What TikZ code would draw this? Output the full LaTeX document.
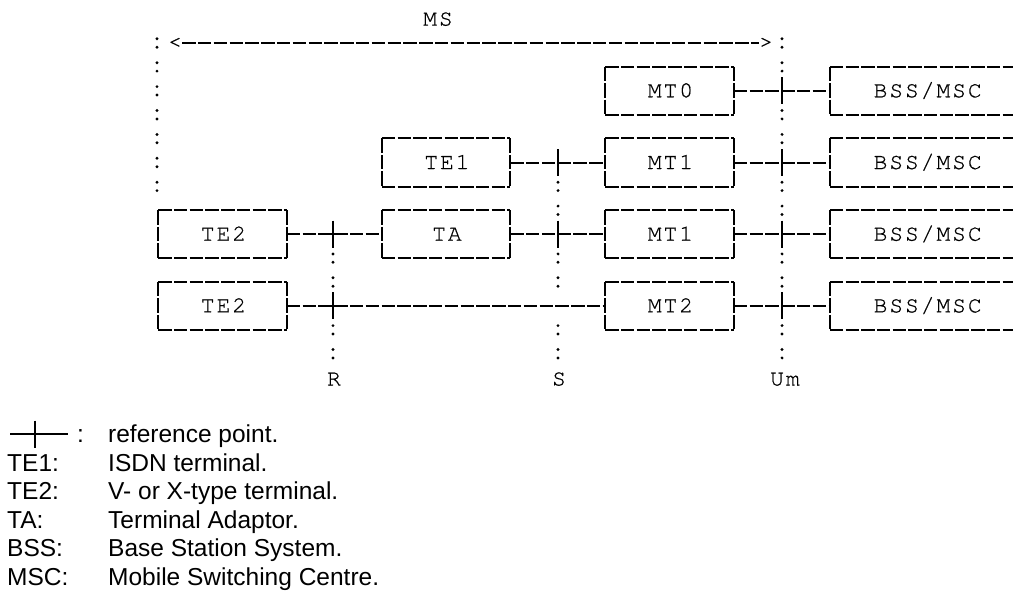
\documentclass[tikz,border=0pt]{standalone}
\usepackage{fontspec}
\newfontfamily\dmono[LetterSpace=8.3,FakeBold=0.5]{texgyrecursor-regular.otf}
\newfontfamily\dmonoplain[FakeBold=0.5]{texgyrecursor-regular.otf}
\newfontfamily\legfont{Liberation Sans}
\newcommand\drawbox[1]{%
  \draw[hedge] (#1.north west) -- (#1.north east);
  \draw[hedge] (#1.south west) -- (#1.south east);
  \draw[vedge] (#1.north west) -- (#1.south west);
  \draw[vedge] (#1.north east) -- (#1.south east);}
\newcommand\drawopenbox[1]{%
  \draw[hedge] (#1.north west) -- ++(183,0);
  \draw[hedge] (#1.south west) -- ++(183,0);
  \draw[vedge] (#1.north west) -- (#1.south west);}
\newcommand\refbar[1]{\draw[bar] ([yshift=13.5pt]#1) -- ([yshift=-13.5pt]#1);}
\begin{document}
\begin{tikzpicture}[x=1pt,y=-1pt,
  ln/.style={line width=2pt},
  lbl/.style={inner sep=0pt, text height=13pt, text depth=0pt,
    font=\dmono\fontsize{23}{27}\selectfont, execute at end node={\kern-1.9pt}},
  box/.style={lbl, minimum width=128pt, minimum height=47.8pt},
  wbox/.style={lbl, minimum width=193.4pt, minimum height=47.8pt},
  hedge/.style={ln, dash pattern=on 13.4pt off 2.3pt},
  vedge/.style={ln, dash pattern=on 14.5pt off 2pt},
  conn/.style={ln, dash pattern=on 13.4pt off 2.4pt},
  bar/.style={line width=1.8pt},
  tip/.style={inner sep=0pt, font=\dmonoplain\fontsize{23}{27}\selectfont},
  leg/.style={inner sep=0pt, anchor=base west, font=\legfont\fontsize{24.5}{28}\selectfont},
  colon/.pic={\fill (0,-4.2) circle (1.6pt); \fill (0,4.2) circle (1.6pt);}
]
\useasboundingbox (0,0) rectangle (1013,592);

% MS span
\node[lbl] (ms) at (437,19.1) {MS};
\node[tip] (lt) at (175,43) {<};
\node[tip] (gt) at (766,43) {>};
\draw[conn] (lt.east) -- (gt.west);

% boxes
\node[box] (mt0) at (669.5,90.8) {MT0};
\node[wbox] (bssA) at (926.7,90.8) {BSS/MSC};
\node[box] (te1) at (446,162.5) {TE1};
\node[box] (mt1a) at (669.5,162.5) {MT1};
\node[wbox] (bssB) at (926.7,162.5) {BSS/MSC};
\node[box] (te2a) at (222.5,234.2) {TE2};
\node[box] (ta) at (446,234.2) {TA};
\node[box] (mt1b) at (669.5,234.2) {MT1};
\node[wbox] (bssC) at (926.7,234.2) {BSS/MSC};
\node[box] (te2b) at (222.5,305.9) {TE2};
\node[box] (mt2) at (669.5,305.9) {MT2};
\node[wbox] (bssD) at (926.7,305.9) {BSS/MSC};

\foreach \n in {mt0,te1,mt1a,te2a,ta,mt1b,te2b,mt2} {\drawbox{\n}}
\foreach \n in {bssA,bssB,bssC,bssD} {\drawopenbox{\n}}

% connectors
\draw[conn] (mt0.east) -- (bssA.west);
\draw[conn] (te1.east) -- (mt1a.west);
\draw[conn] (mt1a.east) -- (bssB.west);
\draw[conn] (te2a.east) -- (ta.west);
\draw[conn] (ta.east) -- (mt1b.west);
\draw[conn] (mt1b.east) -- (bssC.west);
\draw[conn] (te2b.east) -- (mt2.west);
\draw[conn] (mt2.east) -- (bssD.west);

% reference points
\coordinate (rp3) at (333,234.2);
\coordinate (rp4) at (333,305.9);
\coordinate (sp2) at (558,162.5);
\coordinate (sp3) at (558,234.2);
\coordinate (up1) at (782,90.8);
\coordinate (up2) at (782,162.5);
\coordinate (up3) at (782,234.2);
\coordinate (up4) at (782,305.9);
\foreach \c in {rp3,rp4,sp2,sp3,up1,up2,up3,up4} {\refbar{\c}}

% dotted columns
\foreach \y in {43.0,66.9,90.8,114.7,138.6,162.5,186.4} \pic at (157,\y) {colon};
\foreach \y in {258.1,282.0,329.8,353.7} \pic at (333,\y) {colon};
\foreach \y in {186.4,210.3,258.1,282.0,329.8,353.7} \pic at (558,\y) {colon};
\foreach \y in {43.0,66.9,114.7,138.6,186.4,210.3,258.1,282.0,329.8,353.7} \pic at (782,\y) {colon};

\node[lbl] (labR) at (333,379) {R};
\node[lbl] (labS) at (558,379) {S};
\node[lbl] (labUm) at (784,379) {Um};

% legend
\coordinate (lgA) at (10,434);
\coordinate (lgB) at (68,434);
\coordinate (lgC) at (35,420.5);
\coordinate (lgD) at (35,447.5);
\draw[ln] (lgA) -- (lgB);
\draw[bar] (lgC) -- (lgD);
\node[leg] (lgcolon) at (77,442.6) {:};
\node[leg] (d0) at (108,442.6) {reference point.};
\node[leg] (t1) at (7,471.1) {TE1:};
\node[leg] (d1) at (108,471.1) {ISDN terminal.};
\node[leg] (t2) at (7,499.7) {TE2:};
\node[leg] (d2) at (108,499.7) {V- or X-type terminal.};
\node[leg] (t3) at (7,528.2) {TA:};
\node[leg] (d3) at (108,528.2) {Terminal Adaptor.};
\node[leg] (t4) at (7,556.8) {BSS:};
\node[leg] (d4) at (108,556.8) {Base Station System.};
\node[leg] (t5) at (7,585.4) {MSC:};
\node[leg] (d5) at (108,585.4) {Mobile Switching Centre.};
\end{tikzpicture}
\end{document}
